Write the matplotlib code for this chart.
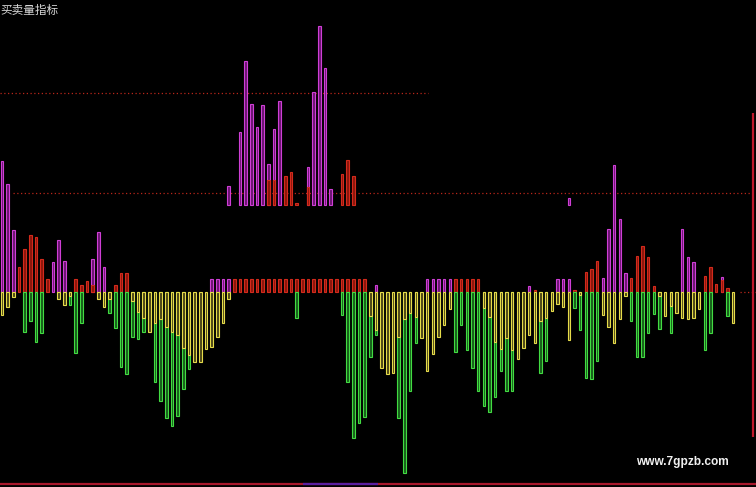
import numpy as np
import matplotlib
matplotlib.use("Agg")
import matplotlib.pyplot as plt

plt.rcParams['font.family'] = ['Noto Sans CJK SC', 'DejaVu Sans']

# one value per bar (130 bars), units are the indicator's own scale
purple = [131, 108, 62, 0, 0, 0, 0, 0, 0, 30, 52, 31, 0, 0, 0, 0, 33, 60, 25, 0,
          0, 0, 0, 0, 0, 0, 0, 0, 0, 0, 0, 0, 0, 0, 0, 0, 0, 13, 13, 13,
          13, 0, 0, 0, 0, 0, 0, 0, 0, 0, 0, 0, 0, 0, 0, 0, 0, 0, 0, 0,
          0, 0, 0, 0, 0, 0, 7, 0, 0, 0, 0, 0, 0, 0, 0, 13, 13, 13, 13, 13,
          0, 0, 0, 0, 0, 0, 0, 0, 0, 0, 0, 0, 0, 6, 0, 0, 0, 0, 13, 13,
          13, 0, 0, 0, 0, 0, 14, 63, 127, 73, 19, 0, 0, 0, 0, 0, 0, 0, 0, 0,
          63, 35, 30, 0, 0, 0, 0, 15, 0, 0]
red = [0, 0, 0, 25, 43, 57, 55, 33, 13, 0, 0, 0, 0, 13, 7, 11, 7, 0, 0, 0,
       7, 19, 19, 0, 0, 0, 0, 0, 0, 0, 0, 0, 0, 0, 0, 0, 0, 0, 0, 0,
       0, 13, 13, 13, 13, 13, 13, 13, 13, 13, 13, 13, 13, 13, 13, 13, 13, 13, 13, 13,
       13, 13, 13, 13, 13, 0, 0, 0, 0, 0, 0, 0, 0, 0, 0, 0, 0, 0, 0, 0,
       13, 13, 13, 13, 13, 0, 0, 0, 0, 0, 0, 0, 0, 0, 2, 0, 0, 0, 0, 0,
       0, 2, 0, 20, 23, 31, 0, 0, 0, 0, 0, 14, 36, 46, 35, 6, 0, 0, 0, 0,
       0, 0, 0, 0, 16, 25, 8, 12, 4, 0]
yellow = [23, 15, 5, 0, 0, 0, 0, 0, 0, 0, 7, 13, 4, 0, 0, 0, 0, 7, 15, 7,
          0, 0, 0, 9, 20, 26, 40, 31, 27, 35, 40, 43, 56, 63, 70, 70, 57, 55, 45, 31,
          7, 0, 0, 0, 0, 0, 0, 0, 0, 0, 0, 0, 0, 0, 0, 0, 0, 0, 0, 0,
          0, 0, 0, 0, 0, 24, 38, 76, 82, 81, 45, 27, 21, 25, 46, 79, 62, 45, 33, 17,
          0, 0, 0, 0, 0, 16, 25, 50, 57, 46, 58, 67, 56, 43, 51, 29, 26, 19, 12, 15,
          48, 0, 3, 0, 0, 0, 23, 35, 51, 27, 4, 0, 0, 0, 0, 0, 4, 24, 14, 21,
          26, 27, 26, 17, 0, 0, 0, 0, 0, 31]
green = [0, 0, 0, 0, 40, 29, 50, 41, 0, 0, 0, 0, 13, 61, 31, 0, 0, 0, 0, 21,
         36, 75, 82, 45, 47, 40, 38, 90, 109, 126, 134, 124, 97, 77, 0, 0, 0, 0, 0, 0,
         0, 0, 0, 0, 0, 0, 0, 0, 0, 0, 0, 0, 26, 0, 0, 0, 0, 0, 0, 0,
         23, 90, 146, 131, 125, 65, 43, 0, 0, 0, 126, 181, 99, 51, 0, 0, 0, 0, 0, 0,
         60, 33, 58, 76, 99, 114, 120, 105, 79, 99, 99, 0, 0, 0, 0, 81, 69, 0, 0, 0,
         0, 16, 38, 86, 87, 69, 0, 0, 0, 0, 0, 29, 65, 65, 41, 22, 37, 0, 41, 0,
         0, 0, 0, 0, 58, 41, 0, 0, 24, 0]

# upper panel bars (drawn from their own raised base)
hi_base = 87
hi_purple_idx = [40, 42, 43, 44, 45, 46, 47, 48, 49, 54, 55, 56, 57, 58, 100]
hi_purple_val = [19, 73, 144, 101, 78, 100, 41, 76, 104, 38, 113, 179, 137, 16, 7]
hi_red_idx = [47, 48, 50, 51, 52, 54, 60, 61, 62]
hi_red_val = [25, 25, 29, 33, 2, 18, 31, 45, 29]

level_top, level_mid = 199, 99

n = len(purple)
x = np.arange(n)
W, H, STEP, X0, BASE = 756, 487, 5.667, 2, 292

fig = plt.figure(figsize=(W / 100, H / 100), dpi=100, facecolor="black")
ax = fig.add_axes([0, 0, 1, 1], facecolor="black")
ax.set_xlim(-X0 / STEP, (W - X0) / STEP)
ax.set_ylim(-(H - BASE), BASE)
ax.axis("off")

def px(v):  # pixel column -> data x
    return (v - X0) / STEP

ax.hlines(level_top, px(0), px(428), colors="#b8261a", linestyles=(0, (1, 2)), lw=0.9)
ax.hlines(level_mid, px(13), px(W), colors="#b8261a", linestyles=(0, (1, 2)), lw=0.9)
ax.hlines(0, px(740), px(W), colors="#b8261a", linestyles=(0, (1, 2)), lw=0.9)

bw, lw = 0.42, 0.8
def bars(idx, vals, face, edge, bottom=0, sign=1):
    vals = np.asarray(vals, float)
    m = vals > 0
    ax.bar(np.asarray(idx)[m], sign * vals[m], bw, bottom=bottom,
           color=face, edgecolor=edge, linewidth=lw, zorder=3)

bars(hi_purple_idx, hi_purple_val, "#6a1470", "#cf3fd6", bottom=hi_base)
bars(hi_red_idx, hi_red_val, "#8a160c", "#d42a1c", bottom=hi_base)
bars(x, purple, "#6a1470", "#cf3fd6")
bars(x, red, "#8a160c", "#d42a1c")
bars(x, green, "#175e1a", "#42dc42", sign=-1)
bars(x, yellow, "#4a4418", "#e6dc4a", sign=-1)

# frame marks
ax.vlines(px(753), BASE - 437, BASE - 113, colors="#c0182c", lw=1.6)
ax.hlines(BASE - 484, px(0), px(W), colors="#a8182c", lw=1.6)
ax.hlines(BASE - 484, px(303), px(378), colors="#5a1fa0", lw=1.6, zorder=4)

fig.text(0.0, 1 - 10 / H, "买卖量指标", color="#d8d8d8", fontsize=8.4,
         va="center", ha="left")
fig.text(636 / W, 1 - 462 / H, "www.7gpzb.com", color="#f0f0f0", fontsize=8.6,
         fontweight="bold", family=["Liberation Sans", "DejaVu Sans"],
         va="center", ha="left")

fig.savefig("out.png", dpi=100, facecolor="black")
